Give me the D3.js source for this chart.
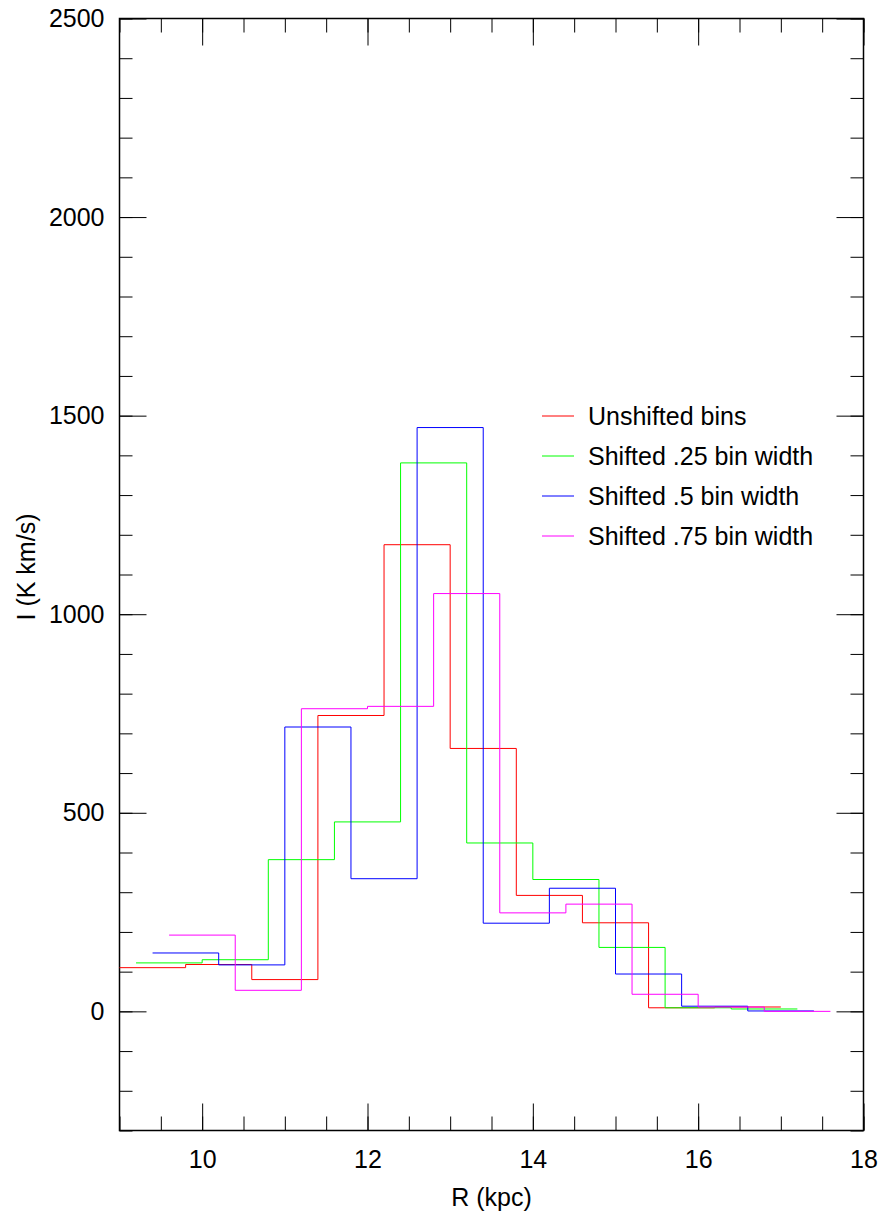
<!DOCTYPE html>
<html>

<head>
    <meta charset="UTF-8">
    <title>Shifted bins</title>
    <script src="https://cdn.jsdelivr.net/npm/d3@7"></script>
    <style>
        body { margin: 0; background: #fff; }
        text { font-family: "Liberation Sans", Arial, sans-serif; }
    </style>
</head>

<body>
    <svg id="chart"></svg>
    <script>

        // left bin edges of each histogram (bin width 0.8 kpc)
        var redEdges = [9.0, 9.8, 10.6, 11.4, 12.2, 13.0, 13.8, 14.6, 15.4, 16.2, 17.0]
        var redVals = [110, 118, 80, 745, 1175, 662, 292, 223, 9, 11]

        var greenEdges = [9.2, 10.0, 10.8, 11.6, 12.4, 13.2, 14.0, 14.8, 15.6, 16.4, 17.2]
        var greenVals = [122, 130, 382, 477, 1381, 424, 332, 161, 9, 6]

        var blueEdges = [9.4, 10.2, 11.0, 11.8, 12.6, 13.4, 14.2, 15.0, 15.8, 16.6, 17.4]
        var blueVals = [147, 117, 716, 334, 1470, 222, 310, 94, 13, 1]

        var magentaEdges = [9.6, 10.4, 11.2, 12.0, 12.8, 13.6, 14.4, 15.2, 16.0, 16.8, 17.6]
        var magentaVals = [192, 53, 762, 768, 1052, 248, 270, 43, 11, 0]

        var seriesNames = ["Unshifted bins", "Shifted .25 bin width", "Shifted .5 bin width", "Shifted .75 bin width"]
        var seriesColors = ["#ff0000", "#00ff00", "#0000ff", "#ff00ff"]

        var xTickLabels = [10, 12, 14, 16, 18]
        var yTickLabels = [0, 500, 1000, 1500, 2000, 2500]

        var svgWidth = 885,
            svgHeight = 1220;
        var margin = { top: 18.5, right: 21.5, bottom: 89.5, left: 119.5 };
        var width = svgWidth - margin.left - margin.right;
        var height = svgHeight - margin.top - margin.bottom;

        var svg = d3.select('#chart')
            .attr("width", svgWidth)
            .attr("height", svgHeight);

        var g = svg.append("g")
            .attr("transform", "translate(" + margin.left + "," + margin.top + ")");

        var x = d3.scaleLinear().domain([9, 18]).range([0, width]);
        var y = d3.scaleLinear().domain([-300, 2500]).range([height, 0]);

        var xMinor = x.ticks(18);
        var yMinor = y.ticks(28);

        function styleTicks(sel) {
            sel.select(".domain").remove();
            sel.selectAll(".tick line").attr("stroke", "#000").attr("stroke-width", 1);
            sel.selectAll("text")
                .attr("fill", "#000")
                .style("font-size", "25px");
        }

        // minor ticks, all four sides
        g.append("g").attr("transform", "translate(0," + height + ")")
            .call(d3.axisBottom(x).tickValues(xMinor).tickSize(-14).tickFormat(""))
            .call(styleTicks);
        g.append("g")
            .call(d3.axisTop(x).tickValues(xMinor).tickSize(-14).tickFormat(""))
            .call(styleTicks);
        g.append("g")
            .call(d3.axisLeft(y).tickValues(yMinor).tickSize(-13).tickFormat(""))
            .call(styleTicks);
        g.append("g").attr("transform", "translate(" + width + ",0)")
            .call(d3.axisRight(y).tickValues(yMinor).tickSize(-13).tickFormat(""))
            .call(styleTicks);

        // major ticks with labels
        g.append("g").attr("class", "axis x").attr("transform", "translate(0," + height + ")")
            .call(d3.axisBottom(x).tickValues(xTickLabels).tickSize(-27).tickPadding(20).tickFormat(d3.format("d")))
            .call(styleTicks);
        g.append("g")
            .call(d3.axisTop(x).tickValues(xTickLabels).tickSize(-27).tickFormat(""))
            .call(styleTicks);
        g.append("g").attr("class", "axis y")
            .call(d3.axisLeft(y).tickValues(yTickLabels).tickSize(-27).tickPadding(15).tickFormat(d3.format("d")))
            .call(styleTicks);
        g.append("g").attr("transform", "translate(" + width + ",0)")
            .call(d3.axisRight(y).tickValues(yTickLabels).tickSize(-27).tickFormat(""))
            .call(styleTicks);

        // frame
        g.append("rect")
            .attr("width", width)
            .attr("height", height)
            .attr("fill", "none")
            .attr("stroke", "#000")
            .attr("stroke-width", 1.5);

        // histograms
        var line = d3.line()
            .x(function (d) { return x(d[0]) })
            .y(function (d) { return y(d[1]) })
            .curve(d3.curveStepAfter);

        var series = [
            [redEdges, redVals],
            [greenEdges, greenVals],
            [blueEdges, blueVals],
            [magentaEdges, magentaVals]
        ];

        series.forEach(function (s, i) {
            var edges = s[0], vals = s[1];
            var pts = vals.map(function (v, k) { return [edges[k], v] });
            pts.push([edges[vals.length], vals[vals.length - 1]]);
            g.append("path")
                .datum(pts)
                .attr("fill", "none")
                .attr("stroke", seriesColors[i])
                .attr("stroke-width", 1)
                .attr("d", line);
        });

        // legend
        var legend = svg.append("g").attr("transform", "translate(542,416)");
        seriesNames.forEach(function (name, i) {
            var row = legend.append("g").attr("transform", "translate(0," + (i * 40) + ")");
            row.append("line")
                .attr("x1", 0).attr("x2", 32)
                .attr("y1", 0).attr("y2", 0)
                .attr("stroke", seriesColors[i])
                .attr("stroke-width", 1);
            row.append("text")
                .attr("x", 46)
                .attr("y", 9)
                .style("font-size", "25px")
                .attr("fill", "#000")
                .text(name);
        });

        // axis titles
        svg.append("text")
            .attr("x", margin.left + width / 2)
            .attr("y", 1206)
            .attr("text-anchor", "middle")
            .style("font-size", "25px")
            .text("R (kpc)");

        svg.append("text")
            .attr("transform", "translate(35,567) rotate(-90)")
            .attr("text-anchor", "middle")
            .style("font-size", "25px")
            .text("I (K km/s)");

    </script>
</body>

</html>
